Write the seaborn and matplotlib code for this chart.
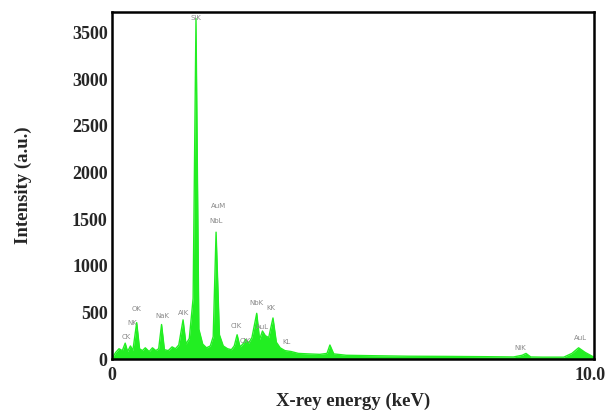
import numpy as np
import pandas as pd
import matplotlib
matplotlib.use("Agg")
import matplotlib.pyplot as plt
import seaborn as sns

# EDX spectrum (keV, counts)
energy = [0.00, 0.08, 0.15, 0.22, 0.28, 0.33, 0.39, 0.44, 0.52, 0.58, 0.64, 0.70,
          0.78, 0.85, 0.92, 0.98, 1.04, 1.10, 1.18, 1.26, 1.33, 1.40, 1.49, 1.55,
          1.62, 1.70, 1.76, 1.82, 1.90, 1.98, 2.06, 2.12, 2.18, 2.25, 2.33, 2.42,
          2.50, 2.56, 2.62, 2.68, 2.74, 2.80, 2.86, 2.93, 3.03, 3.09, 3.15, 3.21,
          3.28, 3.37, 3.44, 3.52, 3.62, 3.75, 3.90, 4.10, 4.35, 4.50, 4.56, 4.64,
          4.90, 5.50, 6.20, 7.00, 7.80, 8.40, 8.58, 8.66, 8.76, 9.00, 9.45, 9.62,
          9.76, 9.90, 10.08]
counts = [0, 70, 110, 90, 170, 80, 140, 90, 390, 110, 90, 120,
          80, 120, 90, 110, 370, 100, 90, 130, 110, 150, 420, 160,
          220, 650, 3650, 320, 160, 120, 140, 240, 1360, 260, 140, 110,
          100, 140, 260, 130, 160, 210, 170, 230, 490, 210, 300, 250,
          230, 440, 180, 120, 90, 80, 60, 55, 50, 60, 150, 55,
          40, 35, 30, 28, 25, 22, 40, 60, 22, 20, 20, 60,
          120, 70, 20]

# peak labels
peak_names = ["CK", "NK", "OK", "NaK", "AlK", "SiK", "NbL", "AuM", "ClK",
              "ClK", "NbK", "AuL", "KK", "KL", "NiK", "AuL"]
peak_x = [0.31, 0.42, 0.52, 1.05, 1.51, 1.76, 2.18, 2.24, 2.60,
          2.80, 3.03, 3.15, 3.32, 3.66, 8.55, 9.81]
peak_y = [236, 386, 536, 461, 493, 3660, 1480, 1640, 354,
          193, 600, 343, 547, 182, 118, 225]

df = pd.DataFrame({"energy": energy, "counts": counts})

sns.set_style("white")
plt.rcParams["font.family"] = ["Liberation Serif", "DejaVu Serif"]

fig = plt.figure(figsize=(6.11, 4.16), dpi=100)
ax = fig.add_axes([0.183, 0.137, 0.789, 0.834])

sns.lineplot(data=df, x="energy", y="counts", ax=ax, color="#22ee22", lw=1)
ax.fill_between(df["energy"], df["counts"], color="#22ee22", lw=0)

for name, x, y in zip(peak_names, peak_x, peak_y):
    ax.text(x, y, name, fontsize=5, color="#8a8a8a", ha="center", va="center",
            family="DejaVu Sans")

ax.set_xlim(0, 10.08)
ax.set_ylim(0, 3720)

ax.set_xticks(np.arange(0, 11, 1))
ax.set_xticklabels(["0"] + [""] * 9 + ["10.0"])
ax.set_yticks(np.arange(0, 3501, 500))
ax.set_yticklabels([str(v) for v in range(0, 3501, 500)])

ax.tick_params(axis="x", which="both", length=3, color="#cccccc", labelsize=13, pad=3)
ax.tick_params(axis="y", length=2, color="#999999", labelsize=13, pad=1)
for lab in ax.get_xticklabels() + ax.get_yticklabels():
    lab.set_fontweight("bold")

for sp in ax.spines.values():
    sp.set_color("black")
    sp.set_linewidth(1.8)

ax.set_xlabel("X-rey energy (keV)", fontsize=13.5, fontweight="bold", labelpad=6)
ax.set_ylabel("Intensity (a.u.)", fontsize=13.5, fontweight="bold", labelpad=29)

fig.savefig("out.png", dpi=100)
